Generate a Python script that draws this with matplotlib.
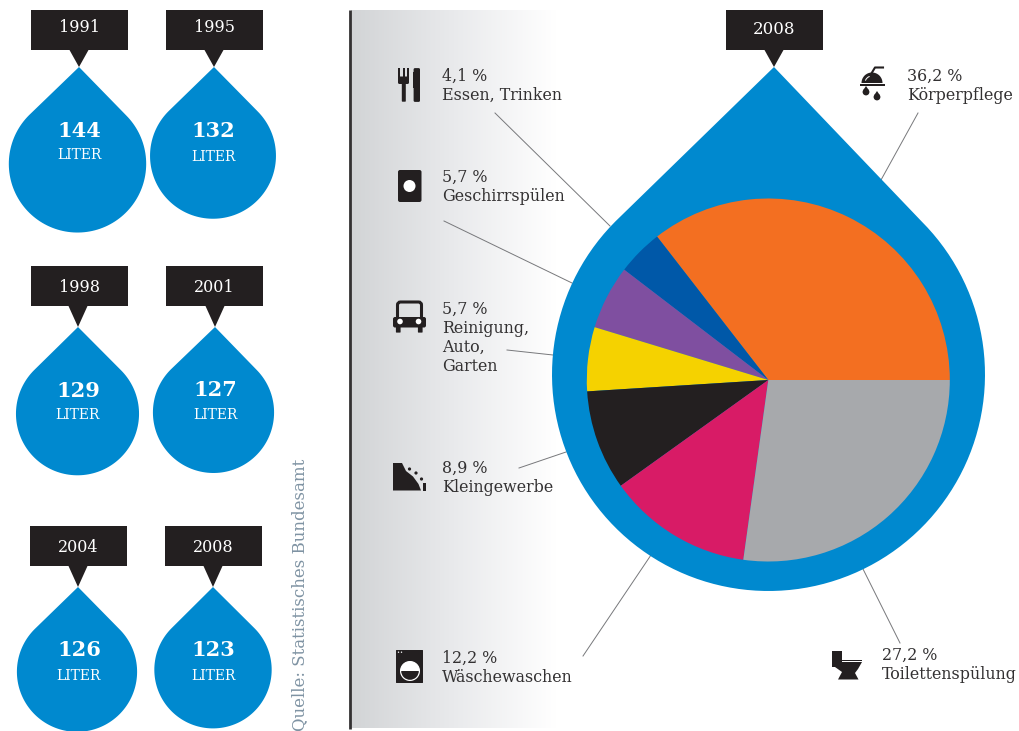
import numpy as np
import matplotlib
matplotlib.use("Agg")
import matplotlib.pyplot as plt
from matplotlib.patches import Polygon, Rectangle, Circle, Wedge, FancyBboxPatch

# Daten
jahre = ["1991", "1995", "1998", "2001", "2004", "2008"]
liter = [144, 132, 129, 127, 126, 123]
# Segmente wie im Bild gezeichnet (weichen bei Orange und Magenta etwas von der Beschriftung ab)
segmente = [35.5, 4.1, 5.7, 5.7, 8.9, 12.9, 27.2]
anteil_text = ["36,2 %", "4,1 %", "5,7 %", "5,7 %", "8,9 %", "12,2 %", "27,2 %"]
namen = ["Körperpflege", "Essen, Trinken", "Geschirrspülen", "Reinigung,\nAuto,\nGarten",
         "Kleingewerbe", "Wäschewaschen", "Toilettenspülung"]
farben = ["#f36f21", "#0058a8", "#7f4fa0", "#f5d200", "#231f20", "#d81b66", "#a7a9ac"]

BLAU = "#0089cf"
SCHWARZ = "#231f20"
SCHRIFT = "DejaVu Serif"

fig = plt.figure(figsize=(10.2, 7.31), dpi=100)
ax = fig.add_axes([0, 0, 1, 1])


def tropfen(cx, cy, r, tip):
    # Kreis plus Tangenten zur Spitze
    w = np.radians(np.linspace(-45, 225, 120))
    pts = np.column_stack([cx + r * np.cos(w), cy + r * np.sin(w)])
    pts = np.vstack([pts, tip])
    ax.add_patch(Polygon(pts, closed=True, fc=BLAU, ec="none", zorder=2))


def jahr_box(x, y, text, tip, ty, fs=11.5):
    ax.add_patch(Rectangle((x, y), 97, 40, fc=SCHWARZ, ec="none", zorder=3))
    ax.add_patch(Polygon([(tip[0] - 9.5, y + 40), (tip[0] + 9.5, y + 40), tip], fc=SCHWARZ, ec="none", zorder=3))
    ax.text(x + 48.5, ty, text, color="white", ha="center", va="center", family=SCHRIFT, fontsize=fs, zorder=4)


# Hintergrund links
verlauf = np.linspace(0, 1, 256).reshape(1, -1)
cmap = matplotlib.colors.LinearSegmentedColormap.from_list("v", ["#d2d4d6", "#e9eaec", "#ffffff"])
ax.imshow(verlauf, extent=(351, 556, 728, 10), cmap=cmap, aspect="auto", zorder=0)
ax.plot([350, 350], [10, 729], color="#333132", lw=2, zorder=1, solid_capstyle="butt")

# kleine Tropfen
kx = [77.5, 213, 77.5, 213.5, 77, 213]
tips = [(79, 67), (214, 67), (78, 327), (215, 327), (78, 587), (213, 587)]
boxen = [(31, 10), (166, 10), (31, 266), (166, 266), (30, 526), (165, 526)]
jahr_y = [27, 27, 287, 287, 547, 547]
zahl_pos = [(79, 131), (213, 131), (78, 391), (215, 390), (79, 650), (213, 650)]
lit_pos = [(79, 154), (213, 156), (77, 414), (215, 414), (78, 675), (213, 675)]
for i in range(len(jahre)):
    r = 0.477 * liter[i]
    tropfen(kx[i], tips[i][1] + 1.41 * r, r, tips[i])
    jahr_box(boxen[i][0], boxen[i][1], jahre[i], tips[i], jahr_y[i])
    ax.text(zahl_pos[i][0], zahl_pos[i][1], str(liter[i]), color="white", ha="center", va="center",
            family=SCHRIFT, fontweight="bold", fontsize=15, zorder=4)
    ax.text(lit_pos[i][0], lit_pos[i][1] + 1, "LITER", color="white", ha="center", va="center",
            family=SCHRIFT, fontsize=10, zorder=4)

# grosser Tropfen mit Torte
tropfen(768.5, 374.5, 216.5, (774, 67))
jahr_box(726, 10, "2008", (774, 67), 30, fs=12)
ax.pie(segmente, colors=farben, center=(768.3, 380), radius=181.5, startangle=0, counterclock=False,
       wedgeprops={"linewidth": 0, "zorder": 3})

# Hinweislinien
linien = [((881, 180), (918, 113)), ((495, 113), (610, 226)), ((444, 221), (572, 283)), ((507, 350), (553, 355)),
          ((519, 468), (566, 452)), ((583, 656), (651, 555)), ((863, 569), (900, 643))]
for a, b in linien:
    ax.plot([a[0], b[0]], [a[1], b[1]], color="#77787b", lw=0.7, zorder=1.5)

# Beschriftung
text_pos = [(907, 75), (442, 75), (442, 176), (442, 308), (442, 467), (442, 657), (882, 654)]
for (x, y), p, n in zip(text_pos, anteil_text, namen):
    zeilen = (p + "\n" + n).split("\n")
    for k, z in enumerate(zeilen):
        ax.text(x, y + 6 + 19 * k, z, color="#333132", ha="left", va="baseline", family=SCHRIFT, fontsize=11.4, zorder=4)

ax.text(300, 731, "Quelle: Statistisches Bundesamt", color="#7f93a3", rotation=90, ha="center", va="bottom",
        family=SCHRIFT, fontsize=12, zorder=4)

# Icons
S = {"fc": SCHWARZ, "ec": "none", "zorder": 4}
W = {"fc": "white", "ec": "none", "zorder": 5}
# Besteck
for x in [398, 402.6, 407]:
    ax.add_patch(Rectangle((x, 68), 2.2, 13, **S))
ax.add_patch(FancyBboxPatch((399.5, 78), 8, 4.5, boxstyle="round,pad=1.5", **S))
ax.add_patch(FancyBboxPatch((402.5, 84), 2.6, 17, boxstyle="round,pad=0.7", **S))
ax.add_patch(FancyBboxPatch((415, 69.5), 3.6, 31, boxstyle="round,pad=1.4", **S))
ax.add_patch(Polygon([(413, 72), (415, 72), (415, 88), (413, 88)], **S))
# Geschirr
ax.add_patch(FancyBboxPatch((400, 172), 19.5, 28, boxstyle="round,pad=2", **S))
ax.add_patch(Circle((409.5, 186), 6, **W))
# Auto
ax.add_patch(FancyBboxPatch((395, 319), 29, 6.5, boxstyle="round,pad=2", **S))
ax.add_patch(FancyBboxPatch((400.5, 305), 18, 15, boxstyle="round,pad=3", fc="none", ec=SCHWARZ, lw=2.2, zorder=4))
ax.add_patch(FancyBboxPatch((396.5, 327), 3.5, 5, boxstyle="round,pad=0.6", **S))
ax.add_patch(FancyBboxPatch((418.5, 327), 3.5, 5, boxstyle="round,pad=0.6", **S))
ax.add_patch(Circle((400, 321.5), 2.8, **W))
ax.add_patch(Circle((418.5, 321.5), 2.8, **W))
# Kleingewerbe
ax.add_patch(Polygon([(393, 463), (402, 463), (406, 471), (413, 476.5), (418.5, 484), (421, 490.5), (393, 490.5)], **S))
for x, y in [(409.5, 469), (416, 473), (421.5, 479)]:
    ax.add_patch(Circle((x, y), 1.6, **S))
ax.add_patch(Rectangle((423, 483), 3.5, 7.5, **S))
# Waschmaschine
ax.add_patch(FancyBboxPatch((396.5, 650.5), 26, 32, boxstyle="round,pad=0.5", **S))
ax.add_patch(Rectangle((396, 654.5), 27, 0.8, **W))
ax.add_patch(Circle((410, 671), 10, **W))
ax.add_patch(Circle((410, 671), 8.8, fc=SCHWARZ, ec="none", zorder=5))
ax.add_patch(Wedge((410, 671), 9.5, 180, 360, fc="white", ec="none", zorder=6))
for x in [398.5, 401.5]:
    ax.add_patch(Circle((x, 652.2), 0.7, **W))
# Dusche
ax.add_patch(Wedge((872, 83), 10.5, 180, 360, **S))
ax.add_patch(Wedge((872, 83), 7.5, 200, 250, width=1, **W))
ax.add_patch(Rectangle((860, 84.3), 25, 1.6, **S))
ax.plot([872, 875, 883], [72.5, 67.5, 67.5], color=SCHWARZ, lw=1.5, zorder=4)
for x, y in [(866, 92), (877, 97)]:
    ax.add_patch(Circle((x, y), 3.4, **S))
    ax.add_patch(Polygon([(x - 2.8, y - 1.8), (x + 2.8, y - 1.8), (x, y - 6)], **S))
# Toilette
ax.add_patch(Rectangle((832, 651), 10, 16, **S))
ax.add_patch(Rectangle((842, 659.5), 20, 1.5, **S))
ax.add_patch(Polygon([(835, 667), (842, 662), (862, 662), (858, 669), (855, 673), (858.5, 679.5), (838, 679.5), (842, 672)], **S))

ax.set_xlim(0, 1020)
ax.set_ylim(731, 0)
ax.set_aspect("auto")
ax.axis("off")
fig.savefig("out.png", dpi=100)
